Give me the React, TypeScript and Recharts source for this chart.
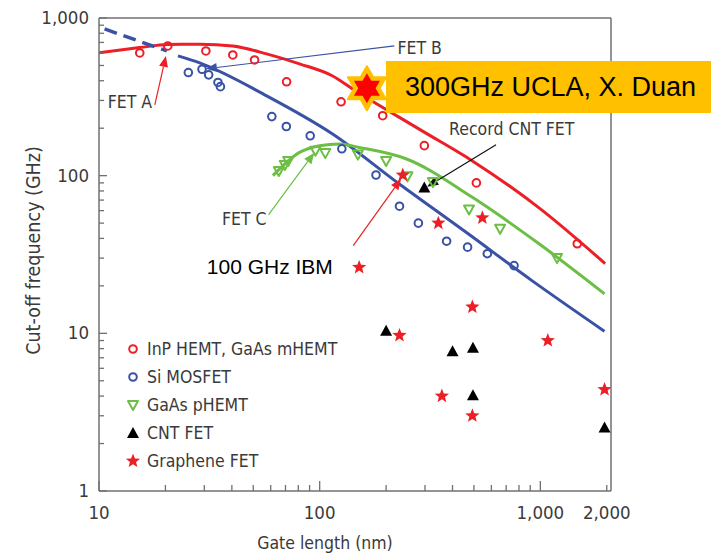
import React from "react";
import {
  ComposedChart,
  Legend,
  Line,
  ReferenceDot,
  ReferenceLine,
  Scatter,
  XAxis,
  YAxis,
} from "recharts";

const NARROW = "'Liberation Sans Narrow', 'Arial Narrow', 'DejaVu Sans Condensed', Roboto, sans-serif";
const ARIAL = "'Liberation Sans', Arial, sans-serif";

const RED = "#ec1f26";
const BLUE = "#3a52a5";
const GREEN = "#6cbe45";
const TEXT = "#3a3a3a";
const AXIS = "#707070";

// gate length (nm) vs cut-off frequency (GHz)
const inpHemt = [
  { x: 15.3, y: 600 },
  { x: 20.5, y: 665 },
  { x: 30.5, y: 618 },
  { x: 40.4, y: 583 },
  { x: 50.7, y: 542 },
  { x: 70.8, y: 394 },
  { x: 125, y: 294 },
  { x: 193, y: 240 },
  { x: 298, y: 155 },
  { x: 513, y: 90 },
  { x: 1470, y: 37 },
];

const siMosfet = [
  { x: 25.4, y: 451 },
  { x: 29.3, y: 473 },
  { x: 31.4, y: 436 },
  { x: 34.6, y: 390 },
  { x: 35.5, y: 367 },
  { x: 60.7, y: 237 },
  { x: 70.6, y: 205 },
  { x: 90.6, y: 179 },
  { x: 126, y: 148 },
  { x: 180, y: 101 },
  { x: 230, y: 64 },
  { x: 280, y: 50 },
  { x: 376, y: 38.4 },
  { x: 468, y: 35.2 },
  { x: 575, y: 32 },
  { x: 760, y: 26.9 },
];

const gaasPhemt = [
  { x: 65.3, y: 107 },
  { x: 69.5, y: 117 },
  { x: 72, y: 124 },
  { x: 95.7, y: 144 },
  { x: 106, y: 139 },
  { x: 149, y: 136 },
  { x: 200, y: 124 },
  { x: 250, y: 99 },
  { x: 326, y: 91 },
  { x: 475, y: 61 },
  { x: 657, y: 46 },
  { x: 1190, y: 30 },
];

const cntFet = [
  { x: 298, y: 84 },
  { x: 200, y: 10.4 },
  { x: 400, y: 7.7 },
  { x: 495, y: 8.1 },
  { x: 495, y: 4.05 },
  { x: 1954, y: 2.53 },
];

const grapheneFet = [
  { x: 151, y: 26.2 },
  { x: 230, y: 9.7 },
  { x: 492, y: 14.7 },
  { x: 358, y: 4.0 },
  { x: 492, y: 3.0 },
  { x: 1081, y: 9.0 },
  { x: 1954, y: 4.4 },
  { x: 238, y: 101 },
  { x: 345, y: 50 },
  { x: 546, y: 54 },
];

const uclaRecord = [{ x: 163.7, y: 359 }];

// fitted trend curves
const redCurve = [
  { x: 10, y: 603 },
  { x: 15.3, y: 649 },
  { x: 20.5, y: 680 },
  { x: 28.6, y: 682 },
  { x: 40.4, y: 665 },
  { x: 57.5, y: 592 },
  { x: 81, y: 512 },
  { x: 114, y: 430 },
  { x: 141, y: 355 },
  { x: 290, y: 193 },
  { x: 490, y: 124.5 },
  { x: 983, y: 62.7 },
  { x: 1966, y: 27.7 },
];

const blueDashed = [
  { x: 10.6, y: 852 },
  { x: 20.3, y: 618 },
];

const blueCurve = [
  { x: 22.8, y: 575 },
  { x: 28.6, y: 519 },
  { x: 57.5, y: 321 },
  { x: 114, y: 184.5 },
  { x: 229.6, y: 88.5 },
  { x: 456, y: 44.2 },
  { x: 916, y: 21.6 },
  { x: 1954, y: 10.3 },
];

const greenCurve = [
  { x: 61.4, y: 100 },
  { x: 81, y: 140.5 },
  { x: 99.8, y: 155 },
  { x: 123, y: 159 },
  { x: 151, y: 151 },
  { x: 246, y: 128 },
  { x: 492, y: 72.9 },
  { x: 983, y: 37.1 },
  { x: 1954, y: 17.8 },
];

const xTicks = [
  10, 20, 30, 40, 50, 60, 70, 80, 90, 100, 200, 300, 400, 500, 600, 700, 800,
  900, 1000, 2000,
];
const xTickLabels: Record<number, string> = {
  10: "10",
  100: "100",
  1000: "1,000",
  2000: "2,000",
};
const yTicks = [
  1, 2, 3, 4, 5, 6, 7, 8, 9, 10, 20, 30, 40, 50, 60, 70, 80, 90, 100, 200,
  300, 400, 500, 600, 700, 800, 900, 1000,
];
const yTickLabels: Record<number, string> = {
  1: "1",
  10: "10",
  100: "100",
  1000: "1,000",
};

const legendOrder = [
  "InP HEMT, GaAs mHEMT",
  "Si MOSFET",
  "GaAs pHEMT",
  "CNT FET",
  "Graphene FET",
];

type Note = {
  text: string;
  x: number;
  y: number;
  anchor: "start" | "middle" | "end";
  color: string;
  size: number;
  family: string;
};

const notes: Note[] = [
  { text: "FET A", x: 13.8, y: 294, anchor: "middle", color: TEXT, size: 17.5, family: NARROW },
  { text: "FET B", x: 225, y: 646, anchor: "start", color: TEXT, size: 17.5, family: NARROW },
  { text: "FET C", x: 57.5, y: 53.5, anchor: "end", color: TEXT, size: 17.5, family: NARROW },
  { text: "Record CNT FET", x: 386, y: 198, anchor: "start", color: TEXT, size: 17.5, family: NARROW },
  { text: "100 GHz IBM", x: 30.8, y: 26.5, anchor: "start", color: "#000", size: 21, family: ARIAL },
];

const arrows = [
  { from: { x: 17.9, y: 281 }, to: { x: 20.1, y: 575 }, color: RED },
  { from: { x: 218, y: 665 }, to: { x: 30.5, y: 476 }, color: BLUE },
  { from: { x: 58.7, y: 56.6 }, to: { x: 94.6, y: 140 }, color: GREEN },
  { from: { x: 630, y: 157 }, to: { x: 307, y: 85.2 }, color: "#111" },
  { from: { x: 142, y: 36 }, to: { x: 234, y: 95.7 }, color: RED },
];

const Marker = ({ kind, cx, cy, color }: any) => {
  if (cx == null || cy == null) return null;
  if (kind === "circle") {
    return <circle cx={cx} cy={cy} r={3.8} fill="none" stroke={color} strokeWidth={2} />;
  }
  if (kind === "down") {
    return (
      <polygon
        points={`${cx - 5},${cy - 4} ${cx + 5},${cy - 4} ${cx},${cy + 5}`}
        fill="none"
        stroke={color}
        strokeWidth={2}
        strokeLinejoin="round"
      />
    );
  }
  if (kind === "up") {
    return (
      <polygon
        points={`${cx - 6},${cy + 5} ${cx + 6},${cy + 5} ${cx},${cy - 6}`}
        fill={color}
      />
    );
  }
  const pts: string[] = [];
  for (let i = 0; i < 10; i++) {
    const a = -Math.PI / 2 + (i * Math.PI) / 5;
    const r = i % 2 === 0 ? 7.5 : 3.2;
    pts.push(`${cx + r * Math.cos(a)},${cy + r * Math.sin(a)}`);
  }
  return <polygon points={pts.join(" ")} fill={color} />;
};

const hexPoints = (cx: number, cy: number, R: number) => {
  const pts: string[] = [];
  for (let i = 0; i < 12; i++) {
    const a = -Math.PI / 2 + (i * Math.PI) / 6;
    const r = i % 2 === 0 ? R : R / Math.sqrt(3);
    pts.push(`${cx + r * Math.cos(a)},${cy + r * Math.sin(a)}`);
  }
  return pts.join(" ");
};

const Hexagram = ({ cx, cy }: any) => (
  <g>
    <polygon points={hexPoints(cx, cy, 22)} fill="#ffc000" stroke="#ffc000" strokeWidth={2} strokeLinejoin="round" />
    <polygon points={hexPoints(cx, cy, 15)} fill="#ff0000" />
  </g>
);

const arrowShape = (color: string) => (p: any) => {
  const { x1, y1, x2, y2 } = p;
  if ([x1, y1, x2, y2].some((v) => v == null || isNaN(v))) return <g />;
  const ang = Math.atan2(y2 - y1, x2 - x1);
  const L = 11;
  const W = 4.5;
  const bx = x2 - L * Math.cos(ang);
  const by = y2 - L * Math.sin(ang);
  const pts = `${x2},${y2} ${bx + W * Math.sin(ang)},${by - W * Math.cos(ang)} ${bx - W * Math.sin(ang)},${by + W * Math.cos(ang)}`;
  return (
    <g>
      <line x1={x1} y1={y1} x2={bx} y2={by} stroke={color} strokeWidth={1.2} />
      <polygon points={pts} fill={color} />
    </g>
  );
};

const noteShape = (n: Note) => (p: any) => (
  <text
    x={p.cx}
    y={p.cy}
    dy={n.size * 0.36}
    textAnchor={n.anchor}
    fill={n.color}
    fontSize={n.size}
    fontFamily={n.family}
  >
    {n.text}
  </text>
);

const XTick = (props: any) => {
  const { x, y, payload } = props;
  const v = payload.value;
  const label = xTickLabels[v];
  const len = v === 10 || v === 100 || v === 1000 ? 10 : 6;
  return (
    <g>
      <line x1={x} x2={x} y1={y} y2={y - len} stroke={AXIS} strokeWidth={1.3} />
      {label && (
        <text x={x} y={y + 28} textAnchor="middle" fill={TEXT} fontSize={18.5} fontFamily={NARROW}>
          {label}
        </text>
      )}
    </g>
  );
};

const YTick = (props: any) => {
  const { x, y, payload } = props;
  const v = payload.value;
  const label = yTickLabels[v];
  const len = label ? 8 : 5;
  return (
    <g>
      <line x1={x} x2={x + len} y1={y} y2={y} stroke={AXIS} strokeWidth={1.3} />
      {label && (
        <text x={x - 10} y={y} dy={6} textAnchor="end" fill={TEXT} fontSize={18.5} fontFamily={NARROW}>
          {label}
        </text>
      )}
    </g>
  );
};

const legendKinds: Record<string, { kind: string; color: string }> = {
  "InP HEMT, GaAs mHEMT": { kind: "circle", color: RED },
  "Si MOSFET": { kind: "circle", color: BLUE },
  "GaAs pHEMT": { kind: "down", color: GREEN },
  "CNT FET": { kind: "up", color: "#000" },
  "Graphene FET": { kind: "star", color: RED },
};

const renderLegend = (props: any) => {
  const items = (props.payload || [])
    .filter((p: any) => legendKinds[p.value])
    .sort((a: any, b: any) => legendOrder.indexOf(a.value) - legendOrder.indexOf(b.value));
  return (
    <div style={{ fontFamily: NARROW, fontSize: 17.5, color: TEXT }}>
      {items.map((item: any) => {
        const k = legendKinds[item.value];
        return (
          <div key={item.value} style={{ display: "flex", alignItems: "center", height: 28 }}>
            <svg width={16} height={16} style={{ marginRight: 6 }}>
              <Marker kind={k.kind} cx={8} cy={8} color={k.color} />
            </svg>
            <span>{item.value}</span>
          </div>
        );
      })}
    </div>
  );
};

const App = () => {
  return (
    <div style={{ position: "absolute", left: 0, top: 0, width: 711, height: 555, background: "#fff" }}>
      <ComposedChart width={711} height={555} margin={{ top: 18, right: 100, bottom: 24, left: 39 }}>
        <XAxis
          dataKey="x"
          type="number"
          scale="log"
          domain={[10, 2090]}
          allowDataOverflow
          ticks={xTicks}
          interval={0}
          tick={<XTick />}
          tickLine={false}
          tickSize={0}
          tickMargin={0}
          height={40}
          axisLine={{ stroke: AXIS, strokeWidth: 1.5 }}
          label={{
            content: (p: any) => (
              <text
                x={p.viewBox.x + p.viewBox.width / 2 - 30}
                y={p.viewBox.y + 58}
                textAnchor="middle"
                fill={TEXT}
                fontSize={17.5}
                fontFamily={NARROW}
              >
                Gate length (nm)
              </text>
            ),
          }}
        />
        <YAxis
          dataKey="y"
          type="number"
          scale="log"
          domain={[1, 1000]}
          allowDataOverflow
          ticks={yTicks}
          interval={0}
          tick={<YTick />}
          tickLine={false}
          tickSize={0}
          tickMargin={0}
          width={60}
          axisLine={{ stroke: AXIS, strokeWidth: 1.5 }}
          label={{
            content: (p: any) => {
              const cx = p.viewBox.x - 6;
              const cy = p.viewBox.y + p.viewBox.height / 2 - 4;
              return (
                <text
                  x={cx}
                  y={cy}
                  transform={`rotate(-90 ${cx} ${cy})`}
                  textAnchor="middle"
                  dy={7}
                  fill={TEXT}
                  fontSize={19.5}
                  fontFamily={NARROW}
                >
                  Cut-off frequency (GHz)
                </text>
              );
            },
          }}
        />
        <ReferenceLine y={1000} stroke={AXIS} strokeWidth={1.5} />
        <ReferenceLine x={2090} stroke={AXIS} strokeWidth={1.5} />

        <Line data={redCurve} dataKey="y" type="monotone" stroke={RED} strokeWidth={3} dot={false} legendType="none" isAnimationActive={false} />
        <Line data={blueDashed} dataKey="y" type="linear" stroke={BLUE} strokeWidth={3.5} strokeDasharray="13 7" dot={false} legendType="none" isAnimationActive={false} />
        <Line data={blueCurve} dataKey="y" type="monotone" stroke={BLUE} strokeWidth={3} dot={false} legendType="none" isAnimationActive={false} />
        <Line data={greenCurve} dataKey="y" type="monotone" stroke={GREEN} strokeWidth={3} dot={false} legendType="none" isAnimationActive={false} />

        <Scatter name="InP HEMT, GaAs mHEMT" data={inpHemt} fill={RED} shape={(p: any) => <Marker kind="circle" cx={p.cx} cy={p.cy} color={RED} />} isAnimationActive={false} />
        <Scatter name="Si MOSFET" data={siMosfet} fill={BLUE} shape={(p: any) => <Marker kind="circle" cx={p.cx} cy={p.cy} color={BLUE} />} isAnimationActive={false} />
        <Scatter name="GaAs pHEMT" data={gaasPhemt} fill={GREEN} shape={(p: any) => <Marker kind="down" cx={p.cx} cy={p.cy} color={GREEN} />} isAnimationActive={false} />
        <Scatter name="CNT FET" data={cntFet} fill="#000" shape={(p: any) => <Marker kind="up" cx={p.cx} cy={p.cy} color="#000" />} isAnimationActive={false} />
        <Scatter name="Graphene FET" data={grapheneFet} fill={RED} shape={(p: any) => <Marker kind="star" cx={p.cx} cy={p.cy} color={RED} />} isAnimationActive={false} />

        {arrows.map((a, i) => (
          <ReferenceLine
            key={"arrow" + i}
            segment={[a.from, a.to]}
            shape={arrowShape(a.color)}
            ifOverflow="visible"
          />
        ))}
        {notes.map((n) => (
          <ReferenceDot key={n.text} x={n.x} y={n.y} r={0} shape={noteShape(n)} ifOverflow="visible" />
        ))}

        <Scatter name="UCLA" data={uclaRecord} fill="#ff0000" legendType="none" shape={(p: any) => <Hexagram cx={p.cx} cy={p.cy} />} isAnimationActive={false} />

        <Legend
          layout="vertical"
          align="center"
          verticalAlign="middle"
          content={renderLegend}
          wrapperStyle={{ left: 125, top: 335, width: 240, height: 145 }}
        />
      </ComposedChart>
      <div
        style={{
          position: "absolute",
          left: 386,
          top: 61,
          width: 325,
          height: 52,
          background: "#ffc000",
          fontFamily: ARIAL,
          fontSize: 27,
          lineHeight: "52px",
          color: "#000",
          paddingLeft: 19,
          boxSizing: "border-box",
          whiteSpace: "nowrap",
        }}
      >
        300GHz UCLA, X. Duan
      </div>
    </div>
  );
};

export default App;
